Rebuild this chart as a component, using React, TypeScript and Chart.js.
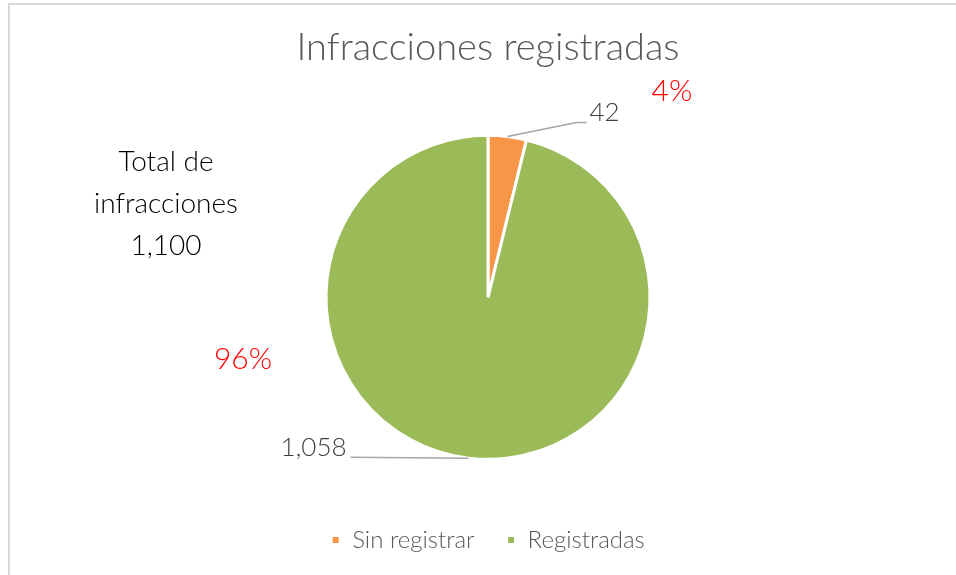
import React, { useEffect, useRef } from "react";
import { Chart, registerables } from "chart.js";

Chart.register(...registerables);

const categories = ["Sin registrar", "Registradas"];
const values = [42, 1058];
const colors = ["#F79646", "#9BBB59"];
const titleText = "Infracciones registradas";
const totalLines = ["Total de", "infracciones"];

const FONT = "Lato, 'Open Sans', sans-serif";

const fmt = (n: number) => n.toLocaleString("en-US");

const annotate = {
  id: "annotate",
  beforeDraw(chart: any) {
    const ctx = chart.ctx;
    ctx.save();
    ctx.strokeStyle = "#d9d9d9";
    ctx.lineWidth = 2;
    ctx.beginPath();
    ctx.moveTo(9, chart.height);
    ctx.lineTo(9, 4);
    ctx.lineTo(chart.width, 4);
    ctx.stroke();
    ctx.restore();
  },
  afterDraw(chart: any) {
    const ctx = chart.ctx;
    const meta = chart.getDatasetMeta(0);
    const total = values.reduce((a, b) => a + b, 0);
    ctx.save();
    meta.data.forEach((arc: any, i: number) => {
      const mid = (arc.startAngle + arc.endAngle) / 2;
      const r = arc.outerRadius;
      const sx = arc.x + Math.cos(mid) * r;
      const sy = arc.y + Math.sin(mid) * r;
      ctx.strokeStyle = "#a6a6a6";
      ctx.lineWidth = 1.5;
      ctx.fillStyle = "#404040";
      ctx.font = `300 26px ${FONT}`;
      ctx.textBaseline = "middle";
      ctx.beginPath();
      if (i === 0) {
        const ex = sx + 69, ey = sy - 14;
        ctx.moveTo(sx, sy);
        ctx.lineTo(ex, ey);
        ctx.lineTo(ex + 10, ey);
        ctx.stroke();
        ctx.textAlign = "left";
        ctx.fillText(fmt(values[i]), ex + 13, ey - 10);
      } else {
        const ex = sx - 118, ey = sy - 1;
        ctx.moveTo(sx, sy);
        ctx.lineTo(ex, ey);
        ctx.stroke();
        ctx.textAlign = "right";
        ctx.fillText(fmt(values[i]), ex - 4, ey - 10);
      }
    });
    ctx.fillStyle = "#ff0000";
    ctx.font = `300 30px ${FONT}`;
    ctx.textAlign = "center";
    ctx.textBaseline = "middle";
    const pcts = values.map((v) => Math.round((v / total) * 100) + "%");
    ctx.fillText(pcts[0], 672, 91);
    ctx.fillText(pcts[1], 243, 359);
    ctx.fillStyle = "#000000";
    ctx.font = `300 28px ${FONT}`;
    const lines = [...totalLines, fmt(total)];
    lines.forEach((t, k) => ctx.fillText(t, 166, 162 + k * 42));
    ctx.restore();
  },
};

export default function App() {
  const ref = useRef<HTMLCanvasElement>(null);
  useEffect(() => {
    document.body.style.margin = "0";
    const chart = new Chart(ref.current!, {
      type: "pie",
      data: {
        labels: categories,
        datasets: [
          {
            data: values,
            backgroundColor: colors,
            borderColor: "#ffffff",
            borderWidth: 3,
            radius: 162,
          } as any,
        ],
      },
      options: {
        animation: false,
        responsive: false,
        rotation: 0,
        layout: { padding: { left: 20, bottom: 13 } },
        plugins: {
          tooltip: { enabled: false },
          title: {
            display: true,
            text: titleText,
            color: "#595959",
            font: { family: FONT, size: 38, weight: "300" as any },
            padding: { top: 25, bottom: 28 },
          },
          legend: {
            position: "bottom",
            labels: {
              boxWidth: 9,
              boxHeight: 9,
              padding: 32,
              color: "#595959",
              font: { family: FONT, size: 24, weight: "300" as any },
            },
          },
        },
      },
      plugins: [annotate],
    });
    return () => chart.destroy();
  }, []);
  return (
    <div style={{ width: 956, height: 575 }}>
      <canvas ref={ref} width={956} height={575} />
    </div>
  );
}
